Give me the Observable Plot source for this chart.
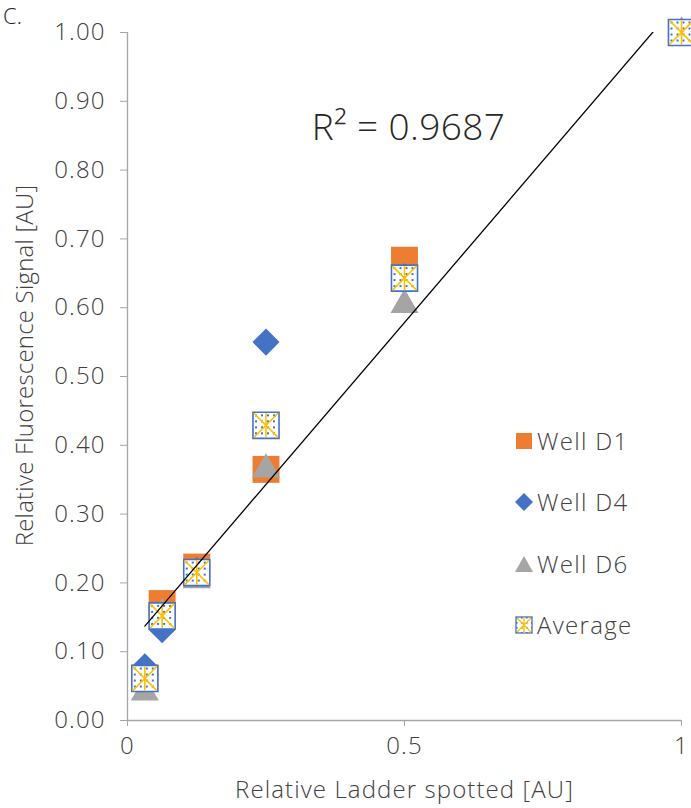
<!DOCTYPE html>
<html>
<head>
<meta charset="utf-8">
<script src="https://cdn.jsdelivr.net/npm/d3@7"></script>
<script src="https://cdn.jsdelivr.net/npm/@observablehq/plot@0.6"></script>
<style>
  html, body { margin: 0; padding: 0; background: #fff; }
  #wrap { position: relative; width: 691px; height: 808px; overflow: hidden; font-family: "Open Sans", Lato, sans-serif; font-weight: 300; color: #404040; }
  #panel { position: absolute; left: 3px; top: 3px; font-size: 22px; line-height: 24px; color: #222; }
  #legend { position: absolute; left: 515px; top: 410px; }
  .item { display: flex; align-items: center; height: 61.5px; font-size: 24px; letter-spacing: 1.3px; margin: 0; }
  .item svg { margin-right: 4px; }
  .item div { line-height: 30px; }
</style>
</head>
<body>
<div id="wrap">
  <div id="chart"></div>
  <div id="panel">C.</div>
  <div id="legend"></div>
</div>
<script>
// ---- data ----
const ladder  = [0.03125, 0.0625, 0.125, 0.25, 0.5, 1];
const wellD1  = [0.062, 0.170, 0.223, 0.365, 0.669, 1.00];
const wellD4  = [0.078, 0.132, 0.218, 0.550, 0.645, 1.00];
const wellD6  = [0.041, 0.154, 0.204, 0.365, 0.604, 1.00];
const average = [0.061, 0.152, 0.215, 0.429, 0.643, 1.00];
const seriesNames = ["Well D1", "Well D4", "Well D6", "Average"];
const yTicks = [0, 0.1, 0.2, 0.3, 0.4, 0.5, 0.6, 0.7, 0.8, 0.9, 1.0];
const xTicks = [0, 0.5, 1];
const r2Label = "R² = 0.9687";
const xTitle = "Relative Ladder spotted [AU]";
const yTitle = "Relative Fluorescence Signal [AU]";

const toRows = (vals) => ladder.map((x, i) => ({x, y: vals[i]}));
const d1 = toRows(wellD1), d4 = toRows(wellD4), d6 = toRows(wellD6), avg = toRows(average);

const ORANGE = "#ED7D31", BLUE = "#4472C4", GRAY = "#A5A5A5", GOLD = "#FFC000";
const AXIS = "#A6A6A6", TEXT = "#404040";
const FONT = "'Open Sans', Lato, sans-serif";

const boxSym = {draw(ctx, size) { const w = Math.sqrt(size) / 2; ctx.moveTo(-w, -w); ctx.lineTo(w, -w); ctx.lineTo(w, w); ctx.lineTo(-w, w); ctx.closePath(); }};
const starSym = {draw(ctx, size) { const w = Math.sqrt(size) / 2; ctx.moveTo(-w, -w); ctx.lineTo(w, w); ctx.moveTo(w, -w); ctx.lineTo(-w, w); ctx.moveTo(0, -w); ctx.lineTo(0, w); }};

const svg = Plot.plot({
  width: 691,
  height: 808,
  marginLeft: 127,
  marginRight: 10,
  marginTop: 32,
  marginBottom: 88,
  style: {fontFamily: FONT, fontSize: "24px", fontWeight: 300, color: TEXT, background: "white", overflow: "visible", letterSpacing: "1.1px"},
  x: {domain: [0, 1]},
  y: {domain: [0, 1]},
  marks: [
    Plot.ruleY([0], {stroke: AXIS, strokeWidth: 1.3}),
    Plot.ruleX([0], {stroke: AXIS, strokeWidth: 1.3}),
    Plot.axisY({ticks: yTicks, tickFormat: d3.format(".2f"), tickSize: 7, tickPadding: 15, stroke: AXIS, fill: TEXT, fontSize: 24, label: null}),
    Plot.axisX({ticks: xTicks, tickFormat: d => String(d), tickSize: 6, tickPadding: 10, stroke: AXIS, fill: TEXT, fontSize: 24, label: null}),
    Plot.text([xTitle], {frameAnchor: "bottom", dy: 70, text: d => d, fontSize: 24, fill: TEXT, lineAnchor: "middle"}),
    Plot.text([yTitle], {frameAnchor: "left", dx: -102, dy: -11, rotate: -90, text: d => d, fontSize: 24, fill: TEXT, lineAnchor: "middle", textAnchor: "middle"}),
    Plot.text([r2Label], {frameAnchor: "top-left", dx: 281, dy: 96, text: d => d, fontSize: 37, fill: "#262626", textAnchor: "middle", lineAnchor: "middle"}),
    Plot.dot(d1, {x: "x", y: "y", symbol: "square", r: 15.2, fill: ORANGE}),
    Plot.dot(d4, {x: "x", y: "y", symbol: "diamond2", r: 12.2, fill: BLUE}),
    Plot.dot(d6, {x: "x", y: "y", symbol: "triangle2", r: 13.4, fill: GRAY}),
    Plot.dot(avg, {x: "x", y: "y", symbol: boxSym, r: 14.7, fill: "url(#dotpat)", stroke: BLUE, strokeWidth: 1.6}),
    Plot.dot(avg, {x: "x", y: "y", symbol: starSym, r: 13.6, fill: "none", stroke: GOLD, strokeWidth: 1.6}),
    Plot.linearRegressionY(avg, {x: "x", y: "y", ci: 0, stroke: "black", strokeWidth: 1.3, clip: true})
  ]
});

// per-text letter spacing tweaks
d3.select(svg).selectAll("text").filter(function() { return this.textContent === yTitle; }).style("letter-spacing", "0.2px");
d3.select(svg).selectAll("text").filter(function() { return this.textContent === r2Label; }).style("letter-spacing", "0.4px");

const defs = d3.select(svg).insert("defs", ":first-child");
function addPattern(id, step) {
  const p = defs.append("pattern").attr("id", id).attr("patternUnits", "userSpaceOnUse").attr("width", step).attr("height", step);
  p.append("rect").attr("width", step).attr("height", step).attr("fill", "white");
  p.append("rect").attr("x", 1).attr("y", 1).attr("width", 2).attr("height", 2).attr("fill", BLUE);
}
addPattern("dotpat", 6);
document.getElementById("chart").appendChild(svg);

// ---- legend ----
const legend = d3.select("#legend");
const swatches = [
  g => g.append("rect").attr("x", 1).attr("y", 1).attr("width", 16).attr("height", 16).attr("fill", ORANGE),
  g => g.append("path").attr("d", "M9,0 L18,9 L9,18 L0,9 Z").attr("fill", BLUE),
  g => g.append("path").attr("d", "M9,1 L18,17 L0,17 Z").attr("fill", GRAY),
  g => {
    g.append("rect").attr("x", 1).attr("y", 1).attr("width", 16).attr("height", 16).attr("fill", "url(#legpat)").attr("stroke", BLUE).attr("stroke-width", 1.3);
    g.append("path").attr("d", "M2,2 L16,16 M16,2 L2,16 M9,1 L9,17").attr("stroke", GOLD).attr("stroke-width", 1.4).attr("fill", "none");
  }
];
seriesNames.forEach((name, i) => {
  const item = legend.append("div").attr("class", "item");
  const s = item.append("svg").attr("width", 18).attr("height", 18);
  if (i === 3) {
    const p = s.append("defs").append("pattern").attr("id", "legpat").attr("patternUnits", "userSpaceOnUse").attr("width", 5).attr("height", 5);
    p.append("rect").attr("width", 5).attr("height", 5).attr("fill", "white");
    p.append("rect").attr("x", 1).attr("y", 1).attr("width", 1.6).attr("height", 1.6).attr("fill", BLUE);
  }
  swatches[i](s);
  item.append("div").text(name);
});
</script>
</body>
</html>
